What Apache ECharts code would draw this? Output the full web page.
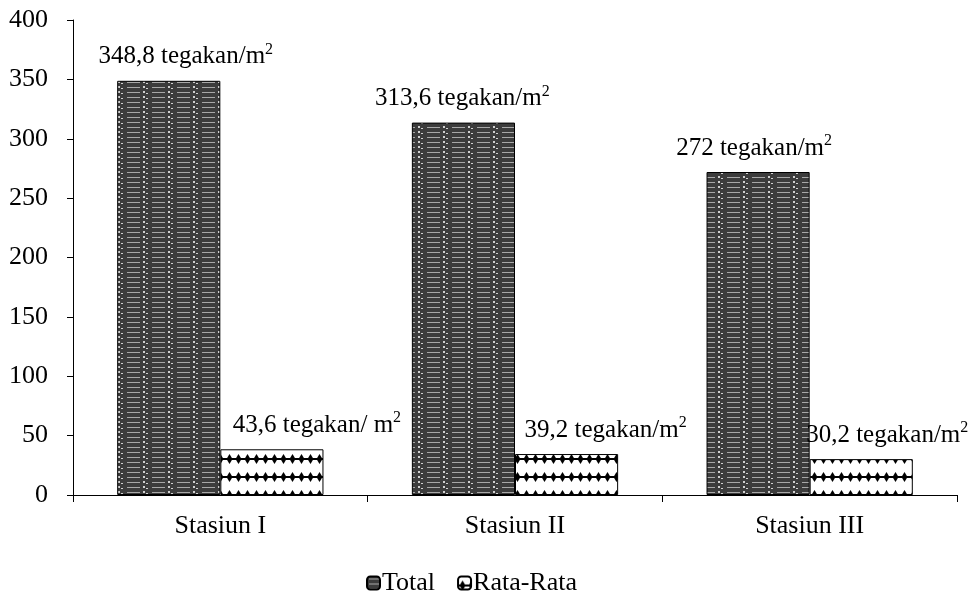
<!DOCTYPE html>
<html lang="en">
<head>
    <meta charset="UTF-8">
    <title>Kepadatan Lamun</title>
    <script src="https://cdn.jsdelivr.net/npm/echarts@6.0.0/dist/echarts.min.js"></script>
    <style>
        html, body { margin: 0; padding: 0; background: #fff; }
        #chart { width: 973px; height: 600px; }
    </style>
</head>
<body>
    <div id="chart"></div>

    <script>
        // data
        var categories = ['Stasiun I', 'Stasiun II', 'Stasiun III'];
        var totalValues = [348.8, 313.6, 272];
        var rataValues = [38.5, 34.5, 30.2];
        var totalLabels = ['348,8 tegakan/m', '313,6 tegakan/m', '272 tegakan/m'];
        var rataLabels = ['43,6 tegakan/ m', '39,2 tegakan/m', '30,2 tegakan/m'];
        var totalOffsets = [17, -1, -4];
        var rataOffsets = [45, 39, 26];

        var FONT = '"Liberation Serif", "Times New Roman", serif';

        // fill patterns
        function totalPattern() {
            var c = document.createElement('canvas');
            c.width = 25; c.height = 5;
            var g = c.getContext('2d');
            g.fillStyle = '#3c3c3c';
            g.fillRect(0, 0, 25, 5);
            g.fillStyle = '#a8a8a8';
            g.fillRect(2, 2, 13, 1);
            g.fillStyle = '#d0d0d0';
            g.fillRect(18, 1, 2, 2);
            g.fillRect(21, 3, 2, 1);
            return c;
        }
        function rataPattern() {
            var c = document.createElement('canvas');
            c.width = 9; c.height = 18;
            var g = c.getContext('2d');
            g.fillStyle = '#ffffff';
            g.fillRect(0, 0, 9, 18);
            g.fillStyle = '#000000';
            g.beginPath();
            g.moveTo(4.5, 4);
            g.lineTo(7.5, 9);
            g.lineTo(4.5, 14);
            g.lineTo(1.5, 9);
            g.closePath();
            g.fill();
            g.fillRect(0, 8, 9, 2);
            return c;
        }

        function labelData(values, labels, offsets) {
            return values.map(function (v, i) {
                return {
                    value: v,
                    label: {
                        formatter: '{t|' + labels[i] + '}{s|2}',
                        offset: [offsets[i], 0]
                    }
                };
            });
        }

        var labelStyle = {
            show: true,
            position: 'top',
            distance: 9,
            color: '#000',
            rich: {
                t: { fontFamily: FONT, fontSize: 25, color: '#000', lineHeight: 30 },
                s: { fontFamily: FONT, fontSize: 16, color: '#000', verticalAlign: 'top', lineHeight: 30, padding: [0, 0, 11, 0] }
            }
        };

        var chart = echarts.init(document.getElementById('chart'));
        chart.setOption({
            animation: false,
            backgroundColor: '#fff',
            textStyle: { fontFamily: FONT, color: '#000' },
            grid: { left: 73, right: 16, top: 20, bottom: 105 },
            legend: {
                top: 570,
                left: 366,
                padding: 0,
                itemWidth: 13,
                itemHeight: 13,
                itemGap: 22,
                textStyle: { fontFamily: FONT, fontSize: 26, color: '#000', padding: [0, 0, 0, -3] },
                data: ['Total', 'Rata-Rata']
            },
            xAxis: {
                type: 'category',
                data: categories,
                axisLine: { lineStyle: { color: '#000', width: 1 } },
                axisTick: { show: true, alignWithLabel: false, length: 7, lineStyle: { color: '#000' } },
                axisLabel: { color: '#000', fontFamily: FONT, fontSize: 26, margin: 18 }
            },
            yAxis: {
                type: 'value',
                min: 0,
                max: 400,
                interval: 50,
                axisLine: { show: true, lineStyle: { color: '#000', width: 1 } },
                axisTick: { show: true, length: 6, lineStyle: { color: '#000' } },
                splitLine: { show: false },
                axisLabel: { color: '#000', fontFamily: FONT, fontSize: 26, margin: 25 }
            },
            series: [
                {
                    name: 'Total',
                    type: 'bar',
                    barGap: '0%',
                    barCategoryGap: '30%',
                    data: labelData(totalValues, totalLabels, totalOffsets),
                    itemStyle: {
                        color: { image: totalPattern(), repeat: 'repeat' },
                        borderColor: '#000',
                        borderWidth: 1
                    },
                    label: labelStyle
                },
                {
                    name: 'Rata-Rata',
                    type: 'bar',
                    data: labelData(rataValues, rataLabels, rataOffsets),
                    itemStyle: {
                        color: { image: rataPattern(), repeat: 'repeat' },
                        borderColor: '#000',
                        borderWidth: 1
                    },
                    label: labelStyle
                }
            ]
        });
    </script>
</body>
</html>
